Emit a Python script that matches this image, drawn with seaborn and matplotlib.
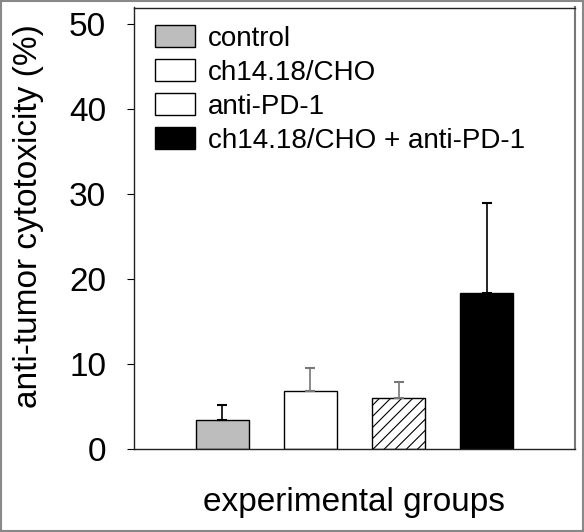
import seaborn as sns
import numpy as np
import pandas as pd
import matplotlib.pyplot as plt
from matplotlib.patches import Patch, Rectangle

# Group means and upper SD
groups = ["control", "ch14.18/CHO", "anti-PD-1", "ch14.18/CHO + anti-PD-1"]
means = [3.4, 6.8, 6.0, 18.3]
sd = [1.8, 2.7, 1.9, 10.6]
bar_colors = ["#bdbdbd", "white", "white", "black"]
err_colors = ["black", "#777777", "#777777", "black"]
y_ticks = [0, 10, 20, 30, 40, 50]

sns.set_style("ticks")
plt.rcParams['font.family'] = ['Liberation Sans', 'DejaVu Sans']
plt.rcParams['hatch.linewidth'] = 0.8
plt.rcParams['text.color'] = 'black'
plt.rcParams['axes.labelcolor'] = 'black'
plt.rcParams['ytick.color'] = 'black'

df = pd.DataFrame({"group": groups, "value": means})

fig = plt.figure(figsize=(5.84, 5.32), dpi=100)
ax = fig.add_axes([134 / 584, 1 - 449 / 532, 441 / 584, 441.5 / 532])

sns.barplot(data=df, x="group", y="value", hue="group", palette=bar_colors,
            order=groups, hue_order=groups, legend=False, errorbar=None,
            width=0.6, edgecolor="black", linewidth=1.0, ax=ax)

# hatch on the anti-PD-1 bar
ax.patches[2].set_hatch("///")

for i in range(len(groups)):
    ax.errorbar(i, means[i], yerr=[[0], [sd[i]]], fmt="none", ecolor=err_colors[i],
                elinewidth=1.2, capsize=3.5, capthick=1.5, zorder=1)

ax.set_xlim(-1, 4)
ax.set_ylim(0, 51.9)
ax.set_yticks(y_ticks)
ax.set_xticks([])
ax.tick_params(axis="y", labelsize=24, length=5, width=0.8, pad=15)
for s in ax.spines.values():
    s.set_linewidth(1.0)
    s.set_color("#222222")
ax.spines["right"].set_color("#777777")
ax.spines["right"].set_linewidth(1.5)

ax.set_ylabel("anti-tumor cytotoxicity (%)", fontsize=24)
ax.yaxis.set_label_coords(-0.204, 0.528)
ax.set_xlabel("experimental groups", fontsize=24)
ax.xaxis.set_label_coords(0.499, -0.085)

handles = [Patch(facecolor=c, edgecolor="black", linewidth=1.0) for c in bar_colors]
ax.legend(handles, groups, loc="upper left", bbox_to_anchor=(0.022, 0.985), frameon=False,
          fontsize=20, handlelength=1.44, handleheight=0.83, labelspacing=0.27,
          handletextpad=0.47, borderaxespad=0)

# grey frame around the whole image
fig.patches.append(Rectangle((0.002, 0.002), 0.996, 0.996, transform=fig.transFigure,
                             fill=False, edgecolor="#888888", linewidth=1.5))

fig.savefig("out.png", dpi=100)
